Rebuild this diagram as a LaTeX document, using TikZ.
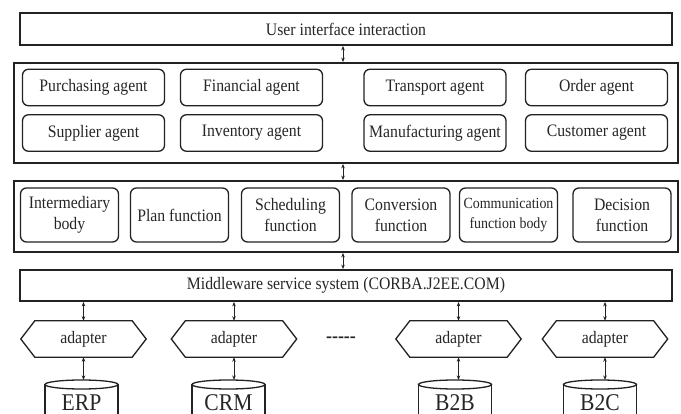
\documentclass[tikz,border=0pt]{standalone}
\usepackage{fontspec}
\setmainfont[FakeStretch=0.9]{Liberation Serif}
\usetikzlibrary{arrows.meta,calc}

\definecolor{ink}{HTML}{222222}
\definecolor{txt}{HTML}{262626}

\tikzset{
  base/.style={text=txt, font=\fontsize{17.5}{21}\selectfont, align=center, inner sep=0pt},
  layer/.style={base, draw=ink, line width=1.8pt},
  agentbox/.style={base, draw=ink, line width=1.3pt, rounded corners=6pt,
    minimum width=142pt, minimum height=36.5pt},
  funcbox/.style={base, draw=ink, line width=1.3pt, rounded corners=6pt,
    minimum width=98pt, minimum height=54pt},
  adaptcore/.style={base, minimum width=97pt, minimum height=36pt},
  hexline/.style={draw=ink, line width=1.3pt, line join=miter},
  cyl/.style={draw=ink, line width=1.3pt},
  dbtext/.style={base, font=\fontsize{24}{24}\selectfont, anchor=base, text depth=0pt},
  biarrow/.style={draw=ink, line width=1pt,
    {Stealth[length=4.5pt,width=3.5pt]}-{Stealth[length=4.5pt,width=3.5pt]}}
}

\begin{document}
\begin{tikzpicture}[x=1pt, y=-1pt]
  \useasboundingbox (0,0) rectangle (681,414);
  \clip (0,0) rectangle (681,414);

  % layers
  \node[layer, minimum width=652pt, minimum height=32pt] (ui) at (346,29) {User interface interaction};
  \node[layer, minimum width=664pt, minimum height=100pt] (agents) at (346,113) {};
  \node[layer, minimum width=664pt, minimum height=71pt] (funcs) at (346,216.5) {};
  \node[layer, minimum width=652pt, minimum height=31pt] (mw) at (346,285.5)
    {Middleware service system (CORBA.J2EE.COM)};

  % agents
  \node[agentbox] (purch) at (93.5,87.5) {Purchasing agent};
  \node[agentbox] (fin)   at (251.5,87.5) {Financial agent};
  \node[agentbox] (trans) at (435,87.5) {Transport agent};
  \node[agentbox] (order) at (596.5,87.5) {Order agent};
  \node[agentbox] (supp)  at (93.5,133) {Supplier agent};
  \node[agentbox] (inv)   at (251.5,133) {Inventory agent};
  \node[agentbox] (manu)  at (435,133) {Manufacturing agent};
  \node[agentbox] (cust)  at (596.5,133) {Customer agent};

  % functions
  \node[funcbox] (inter) at (69.5,215)  {Intermediary\\body};
  \node[funcbox] (plan)  at (179.5,215) {Plan function};
  \node[funcbox] (sched) at (290.5,215) {Scheduling\\function};
  \node[funcbox] (conv)  at (401,215)   {Conversion\\function};
  \node[funcbox, font=\fontsize{15.5}{20}\selectfont] (comm) at (508.5,215) {Communication\\function body};
  \node[funcbox] (dec)   at (622,215)   {Decision\\function};

  % arrows between layers
  \coordinate (ax) at (343,0);
  \draw[biarrow] (ui.south -| ax) -- (agents.north -| ax);
  \draw[biarrow] (agents.south -| ax) -- (funcs.north -| ax);
  \draw[biarrow] (funcs.south -| ax) -- (mw.north -| ax);

  % adapters
  \foreach \n/\x in {ad1/83.5, ad2/234, ad3/458.5, ad4/605}{
    \node[adaptcore] (\n) at (\x,339) {adapter};
    \draw[hexline] (\n.north west) -- (\n.north east) -- ($(\n.east)+(14,0)$)
      -- (\n.south east) -- (\n.south west) -- ($(\n.west)+(-14,0)$) -- cycle;
    \draw[biarrow] (mw.south -| \n) -- (\n.north);
  }

  \node[base, font=\bfseries\fontsize{20}{20}\selectfont] (more) at (341,340) {{-}{-}{-}{-}{-}};

  % databases
  \foreach \n/\x/\a/\lbl in {erp/81.5/ad1/ERP, crm/228.5/ad2/CRM, btb/455/ad3/B2B, btc/600/ad4/B2C}{
    \coordinate (\n top) at (\x,384.5);
    \coordinate (\n rim) at (\x,380);
    \draw[cyl] (\n top) ellipse [x radius=36.5pt, y radius=4.5pt];
    \draw[cyl] ($(\n top)+(-36.5,0)$) -- ++(0,40);
    \draw[cyl] ($(\n top)+(36.5,0)$) -- ++(0,40);
    \node[dbtext] (\n) at (\x,411) {\lbl};
    \draw[biarrow] (\a.south) -- (\a.south |- \n rim);
  }
\end{tikzpicture}
\end{document}
